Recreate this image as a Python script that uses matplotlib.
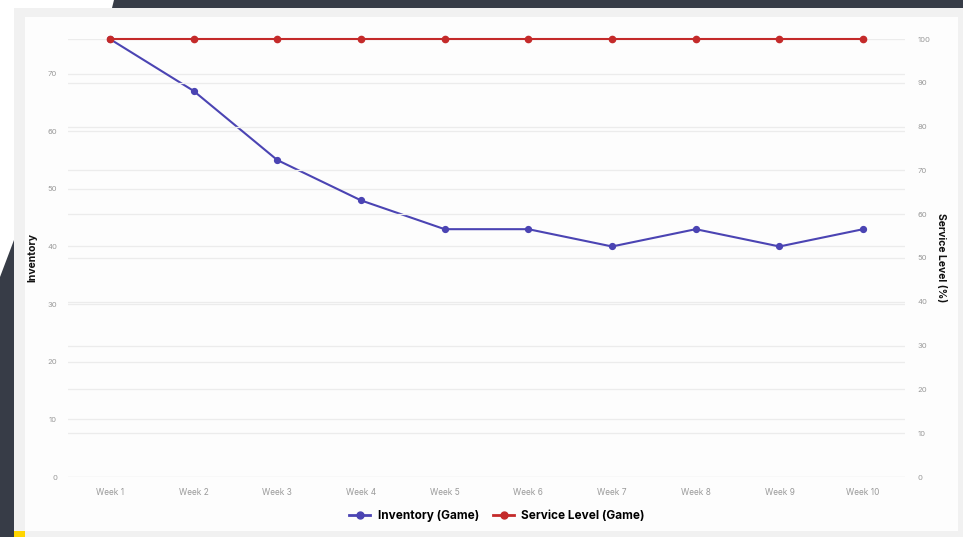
import matplotlib
matplotlib.use("Agg")
import matplotlib.pyplot as plt
from matplotlib.patches import Polygon, Rectangle
from matplotlib.lines import Line2D

weeks = ["Week 1", "Week 2", "Week 3", "Week 4", "Week 5",
         "Week 6", "Week 7", "Week 8", "Week 9", "Week 10"]
inventory = [76, 67, 55, 48, 43, 43, 40, 43, 40, 43]
service_level = [100, 100, 100, 100, 100, 100, 100, 100, 100, 100]
inv_ticks = [0, 10, 20, 30, 40, 50, 60, 70]
svc_ticks = [0, 10, 20, 30, 40, 50, 60, 70, 80, 90, 100]

W, H = 963, 537
BLUE = "#4b44b3"
RED = "#c42a2a"
DARK = "#373c47"

plt.rcParams["font.family"] = ["Inter", "DejaVu Sans"]

fig = plt.figure(figsize=(W / 100, H / 100), dpi=100)
fig.patch.set_facecolor("white")

# decorative background in pixel coordinates
bg = fig.add_axes([0, 0, 1, 1], zorder=-10)
bg.set_xlim(0, W)
bg.set_ylim(H, 0)
bg.axis("off")
bg.add_patch(Polygon([(114, 0), (W, 0), (W, 12), (111, 12)], closed=True,
                     facecolor=DARK, edgecolor="none"))
bg.add_patch(Polygon([(14, 240), (14, H), (0, H), (0, 277)], closed=True,
                     facecolor=DARK, edgecolor="none"))
bg.add_patch(Rectangle((14, 8), W - 14, H - 8, facecolor="#f1f1f1", edgecolor="none"))
bg.add_patch(Rectangle((25, 17), 958 - 25, 531 - 17, facecolor="#fdfdfd", edgecolor="none"))
bg.add_patch(Rectangle((14, 531), 11, 6, facecolor="#ffd500", edgecolor="none"))

left, right, top, bottom = 68, 905, 39, 477
ax = fig.add_axes([left / W, 1 - bottom / H, (right - left) / W, (bottom - top) / H])
ax.set_facecolor("none")
ax2 = ax.twinx()

x = list(range(len(weeks)))
ax.set_xlim(-0.5, len(weeks) - 0.5)
ax.set_ylim(0, max(inventory))
ax2.set_ylim(0, 100)

ax.set_yticks(inv_ticks)
ax2.set_yticks(svc_ticks)
ax.set_xticks(x)
ax.set_xticklabels(weeks)

for a in (ax, ax2):
    for s in a.spines.values():
        s.set_visible(False)
    a.tick_params(length=0, labelsize=5.5, labelcolor="#9a9a9a")
    a.grid(axis="y", color="#ececec", linewidth=0.9)
    a.set_axisbelow(True)
ax.tick_params(axis="x", pad=8, labelsize=6)
ax.tick_params(axis="y", pad=8)
ax2.tick_params(axis="y", pad=9)
ax.grid(axis="x", visible=False)
ax2.grid(axis="x", visible=False)

ax.plot(x, inventory, color=BLUE, linewidth=1.5, marker="o", markersize=4.2,
        zorder=3, clip_on=False)
ax2.plot(x, service_level, color=RED, linewidth=1.5, marker="o", markersize=4.5,
         zorder=3, clip_on=False)

ax.set_ylabel("Inventory", fontsize=7.5, fontweight="bold", color="#111111", labelpad=7)
ax2.set_ylabel("Service Level (%)", fontsize=7.5, fontweight="bold", color="#111111",
               rotation=270, labelpad=11)

handles = [
    Line2D([0], [0], color=BLUE, linewidth=2, marker="o", markersize=5),
    Line2D([0], [0], color=RED, linewidth=2, marker="o", markersize=5),
]
fig.legend(handles, ["Inventory (Game)", "Service Level (Game)"],
           loc="center", bbox_to_anchor=(497 / W, 1 - 516 / H), ncol=2,
           frameon=False, handlelength=1.8, handletextpad=0.6, columnspacing=1.2,
           prop={"size": 8.5, "weight": "bold"})

fig.savefig("out.png", dpi=100, facecolor=fig.get_facecolor())
